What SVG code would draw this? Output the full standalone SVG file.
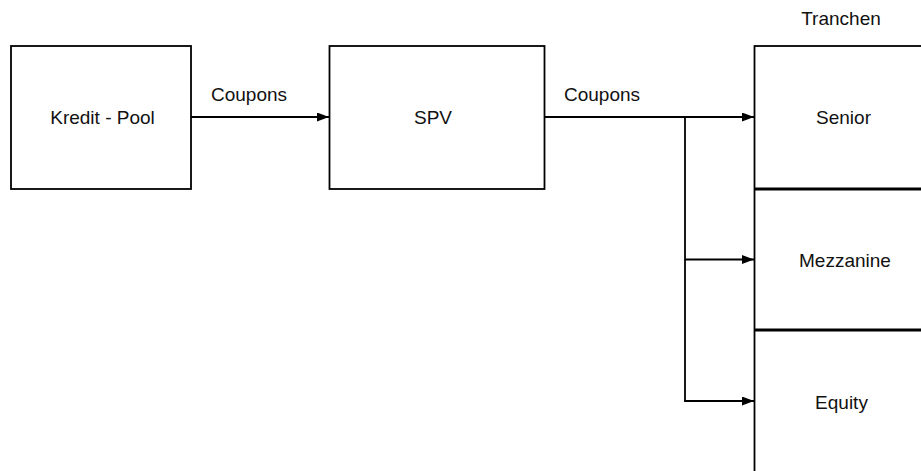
<svg xmlns="http://www.w3.org/2000/svg" width="921" height="471" viewBox="0 0 921 471">
  <style>
    .box { fill: #ffffff; stroke: #000000; stroke-width: 1.8; }
    .divider { stroke: #000000; stroke-width: 3; }
    .label { font-family: "Liberation Sans", Arial, sans-serif; font-size: 19px; fill: #111111; text-anchor: middle; }
    .flow { fill: none; stroke: #000000; stroke-width: 1.8; }
  </style>
  <defs>
    <marker id="arrow" viewBox="0 0 12 9" refX="12" refY="4.5" markerWidth="12" markerHeight="9" markerUnits="userSpaceOnUse" orient="auto">
      <path d="M0,0 L12,4.5 L0,9 Z" fill="#000000"/>
    </marker>
  </defs>
  <rect width="921" height="471" fill="#ffffff"/>

  <g id="kredit-pool">
    <rect class="box" x="11" y="46" width="180" height="143"/>
    <text class="label" x="102.5" y="124">Kredit - Pool</text>
  </g>

  <g id="spv">
    <rect class="box" x="329.5" y="46" width="215" height="143"/>
    <text class="label" x="433" y="124">SPV</text>
  </g>

  <g id="tranchen">
    <text class="label" x="841" y="25">Tranchen</text>
    <rect class="box" x="754.5" y="46" width="180" height="430"/>
    <line class="divider" x1="754.5" y1="189" x2="934" y2="189"/>
    <line class="divider" x1="754.5" y1="330" x2="934" y2="330"/>
  </g>
  <g id="senior">
    <text class="label" x="843.5" y="124">Senior</text>
  </g>
  <g id="mezzanine">
    <text class="label" x="845" y="267">Mezzanine</text>
  </g>
  <g id="equity">
    <text class="label" x="841.5" y="409">Equity</text>
  </g>

  <g id="connectors">
    <line class="flow" x1="191" y1="117" x2="329" y2="117" marker-end="url(#arrow)"/>
    <text class="label" x="249" y="101">Coupons</text>
    <line class="flow" x1="544.5" y1="117" x2="754" y2="117" marker-end="url(#arrow)"/>
    <text class="label" x="602" y="101">Coupons</text>
    <polyline class="flow" points="685,117 685,401"/>
    <line class="flow" x1="685" y1="259.5" x2="754" y2="259.5" marker-end="url(#arrow)"/>
    <line class="flow" x1="684.1" y1="401" x2="754" y2="401" marker-end="url(#arrow)"/>
  </g>
</svg>
